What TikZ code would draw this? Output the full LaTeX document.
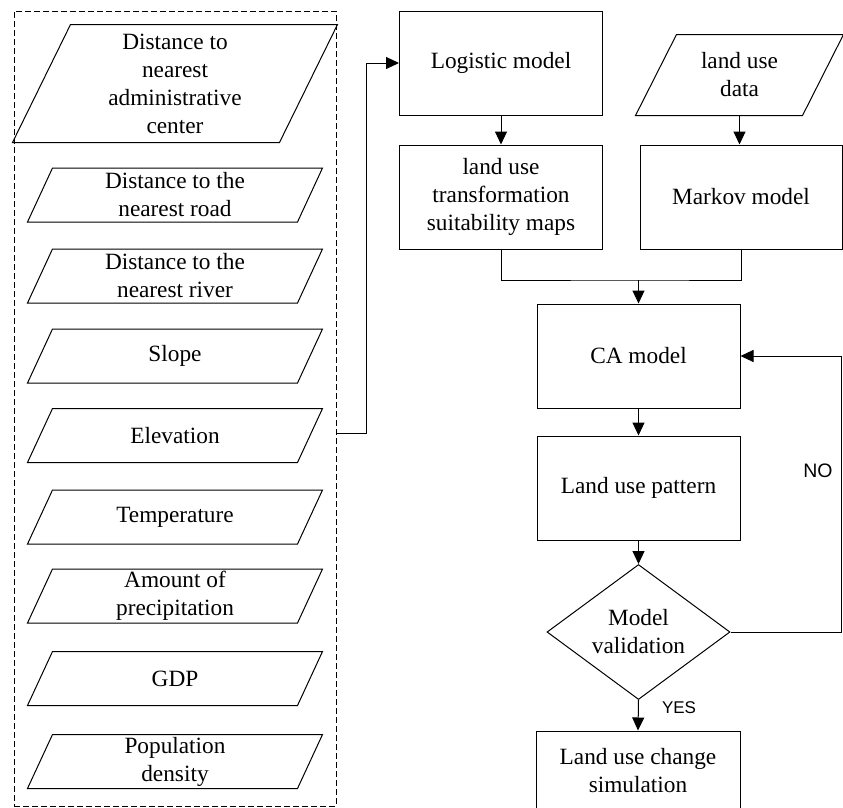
\documentclass[tikz,border=0pt]{standalone}
\usepackage{fontspec}
\setmainfont{Liberation Serif}
\newfontfamily\labsans{Liberation Sans}
\usetikzlibrary{arrows.meta,shapes.geometric}
\begin{document}
\begin{tikzpicture}[x=1pt,y=-1pt,
  line width=1pt,
  txt/.style={font=\fontsize{23.3}{28}\selectfont, align=center, inner sep=0pt},
  box/.style={txt, draw, minimum width=203, minimum height=104},
  paranode/.style={txt, minimum width=294, minimum height=53},
  arr/.style={-{Triangle[length=13pt,width=12pt]}},
  lab/.style={font=\labsans\fontsize{19.5}{21}\selectfont, inner sep=0pt}
]
\useasboundingbox (0,0) rectangle (843,807);

% dashed group of factors
\node[draw, dash pattern=on 6pt off 3pt, minimum width=322, minimum height=795, inner sep=0pt] (group) at (175,408.5) {};

% factor parallelograms (text nodes; outlines drawn below)
\node[txt, minimum width=324, minimum height=117] (p1) at (175,83.5) {Distance to\\nearest\\administrative\\center};
\node[paranode] (p2) at (175,195) {Distance to the\\nearest road};
\node[paranode] (p3) at (175,276) {Distance to the\\nearest river};
\node[paranode] (p4) at (175,356) {Slope};
\node[paranode] (p5) at (175,435.5) {Elevation};
\node[paranode] (p6) at (175,517) {Temperature};
\node[paranode] (p7) at (175,596) {Amount of\\precipitation};
\node[paranode] (p8) at (175,678.5) {GDP};
\node[paranode] (p9) at (175,761.5) {Population\\density};

% right column
\node[box] (logistic) at (501,63) {Logistic model};
\node[box] (trans) at (501,197) {land use\\transformation\\suitability maps};
\node[txt, minimum width=207, minimum height=80] (ldata) at (739.5,75) {land use\\data};
\node[box, minimum width=202] (markov) at (741,197) {Markov model};
\node[box] (ca) at (638.5,356) {CA model};
\node[box] (pat) at (638.5,488) {Land use pattern};
\node[txt, draw, shape=diamond, minimum width=183, minimum height=135, aspect=1.36] (val) at (638.5,632) {Model\\validation};
\node[box, minimum width=204, minimum height=80] (final) at (638,771) {Land use change\\simulation};

% parallelogram outlines
\foreach \n/\s in {p1/58,p2/25,p3/25,p4/25,p5/25,p6/25,p7/25,p8/25,p9/25,ldata/41}
  \draw ([xshift=\s pt]\n.north west) -- (\n.north east) -- ([xshift=-\s pt]\n.south east) -- (\n.south west) -- cycle;

% connectors
\draw[arr] (group.east |- 0,433) -- ++(30,0) |- (logistic.west);
\draw[arr] (logistic.south) -- (trans.north);
\draw[arr] (ldata.south) -- (ldata.south |- markov.north);
\coordinate (merge) at (638.5,280);
\draw (trans.south) |- (merge) -| (markov.south);
\draw[arr] (merge) -- (ca.north);
\draw[arr] (ca.south) -- (pat.north);
\draw[arr] (pat.south) -- (val.north);
\draw[arr] (val.east) -- ++(111,0) |- (ca.east);
\draw[arr] (val.south) -- (final.north);

% labels
\node[lab] (no) at (818,471) {NO};
\node[lab, font=\labsans\fontsize{17}{19}\selectfont] (yes) at (679,708) {YES};
\end{tikzpicture}
\end{document}
